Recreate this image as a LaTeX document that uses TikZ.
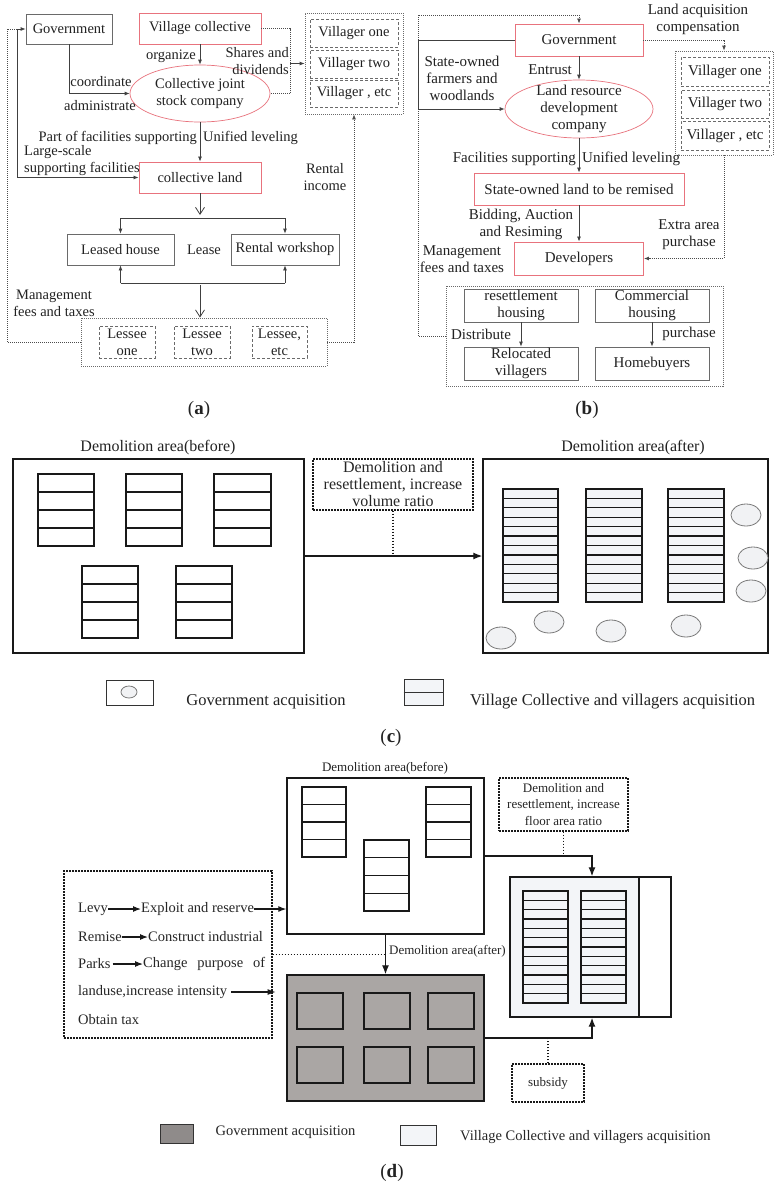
\documentclass[tikz,border=0pt]{standalone}
\usepackage{fontspec}
\setmainfont{Liberation Serif}
\usetikzlibrary{shapes.geometric,arrows.meta}
\definecolor{redb}{HTML}{E8737D}
\definecolor{grayb}{HTML}{6A6A6A}
\definecolor{txt}{HTML}{222222}
\definecolor{lightf}{HTML}{F3F5F8}
\definecolor{govf}{HTML}{AAA6A4}
\definecolor{govleg}{HTML}{8F8B8A}
\definecolor{ellc}{HTML}{7A7A7A}
\definecolor{ellf}{HTML}{F1F2F4}
\newcommand\fsA{\fontsize{14.5pt}{17pt}\selectfont}
\newcommand\fsB{\fontsize{15pt}{17pt}\selectfont}
\newcommand\fsC{\fontsize{16pt}{17pt}\selectfont}
\newcommand\fsCL{\fontsize{16.5pt}{18pt}\selectfont}
\newcommand\fsD{\fontsize{13pt}{16.5pt}\selectfont}
\newcommand\fsE{\fontsize{14.5pt}{17pt}\selectfont}
\newcommand\fsL{\fontsize{19pt}{22pt}\selectfont}
\newcommand\bldg[6]{%
  \draw[stk, fill=#6] (#1,#2) rectangle (#3,#4);
  \pgfmathtruncatemacro\bldgn{#5-1}%
  \foreach \k in {1,...,\bldgn}{\draw[stk] (#1,{#2+(#4-#2)*\k/#5}) -- (#3,{#2+(#4-#2)*\k/#5});}}
\tikzset{
  gbox/.style={draw=grayb, line width=0.8pt, inner sep=0pt, text=txt, align=center},
  rbox/.style={draw=redb, line width=0.9pt, inner sep=0pt, text=txt, align=center},
  rell/.style={ellipse, draw=redb, line width=0.7pt, inner sep=0pt},
  dotbox/.style={draw=grayb, line width=0.8pt, dash pattern=on 1pt off 1pt, inner sep=0pt},
  dashbox/.style={draw=grayb, line width=0.8pt, dash pattern=on 3pt off 2pt, inner sep=0pt, text=txt, align=center},
  lab/.style={inner sep=0pt, text=txt, align=center},
  ln/.style={draw=black!75, line width=0.8pt},
  arr/.style={ln, -{Latex[length=5pt,width=4pt]}},
  oarr/.style={ln, -{Straight Barb[length=7pt,width=9pt]}},
  dln/.style={draw=black!70, line width=0.8pt, dash pattern=on 1pt off 1pt},
  darr/.style={dln, -{Latex[length=5pt,width=4pt]}},
  bkbox/.style={draw=black!90, line width=1.4pt, inner sep=0pt, fill=white},
  stk/.style={draw=black!90, line width=1.2pt},
  bigarr/.style={draw=black!90, line width=1.3pt, -{Latex[length=9pt,width=7pt]}},
  midarr/.style={draw=black!90, line width=1.1pt, -{Latex[length=8pt,width=6pt]}},
  ddot/.style={draw=black!90, line width=1.3pt, dash pattern=on 1.6pt off 1.4pt},
  ddashbox/.style={draw=black!90, line width=1.3pt, dash pattern=on 1.6pt off 1.4pt, inner sep=0pt, text=black!85, align=center},
  ellst/.style={draw=ellc, fill=ellf, line width=0.8pt},
  legbox/.style={draw=black!80, line width=1pt, inner sep=0pt},
}
\begin{document}
\begin{tikzpicture}[x=1pt,y=-1pt]
\fill[white] (0,0) rectangle (774,1184);
\useasboundingbox (0,0) rectangle (774,1184);

% ================= (a) =================
\begin{scope}[font=\fsA]
\node[gbox, minimum width=86pt, minimum height=30pt] (govA) at (69,29) {Government};
\node[rbox, minimum width=122pt, minimum height=31pt] (vcA) at (200,28.5) {Village collective};
\node[rell, minimum width=140pt, minimum height=57pt] (cscA) at (200,93.5) {};
\node[lab] (cscT) at (cscA.center) {Collective joint\\stock company};
\node[dotbox, minimum width=98pt, minimum height=101pt] (vilA) at (354,63.5) {};
\node[dashbox, minimum width=88pt, minimum height=28pt] (v1A) at (354,33) {Villager one};
\node[dashbox, minimum width=88pt, minimum height=28pt] (v2A) at (354,64) {Villager two};
\node[dashbox, minimum width=88pt, minimum height=27pt] (v3A) at (354,93.5) {Villager , etc};

\draw[arr] (vcA) -- (cscA);
\node[lab, anchor=east] (orgA) at (196,56) {organize};
\draw[arr] (govA.south) |- (cscA.west);
\node[lab] (coordA) at (101,82) {coordinate};
\node[lab] (admA) at (100,106) {administrate};
\coordinate (dA1) at (290,28.5);
\coordinate (dA2) at (290,93.5);
\coordinate (dA3) at (290,63.5);
\draw[dln] (vcA.east) -- (dA1) -- (dA2) -- (cscA.east);
\draw[arr] (dA3) -- (vilA.west);
\node[lab, anchor=east, align=right] (shA) at (289,61.5) {Shares and\\dividends};

\node[rbox, minimum width=122pt, minimum height=31pt] (clA) at (200,177.5) {collective land};
\draw[arr] (cscA) -- (clA);
\node[lab, anchor=east] (pfA) at (197,138) {Part of facilities supporting};
\node[lab, anchor=west] (ulA) at (203,138) {Unified leveling};
\coordinate (lA0) at (7,29);
\coordinate (lA1) at (17,29);
\coordinate (lA2) at (17,177.5);
\draw[arr] (lA1) -- (lA2) -- (clA.west);
\draw[arr] (lA1) -- (govA.west);
\node[lab, anchor=west, align=left] (lsA) at (24,161) {Large-scale\\supporting facilities};

\node[gbox, minimum width=107pt, minimum height=31pt] (lhA) at (120.5,249.5) {Leased house};
\node[gbox, minimum width=108pt, minimum height=31pt] (rwA) at (285,249.5) {Rental workshop};
\node[lab] (leaseA) at (204,250) {Lease};
\coordinate (spA) at (200,215);
\draw[oarr] (clA.south) -- (spA);
\coordinate (hA1) at (120.5,218);
\coordinate (hA2) at (285,218);
\draw[ln] (hA1) -- (hA2);
\draw[arr] (hA1) -- (lhA.north);
\draw[arr] (hA2) -- (rwA.north);
\coordinate (hA3) at (120.5,283);
\coordinate (hA4) at (285,283);
\coordinate (hA5) at (200,285);
\draw[ln] (hA3) -- (hA4);
\draw[arr] (hA3) -- (lhA.south);
\draw[arr] (hA4) -- (rwA.south);

\node[dotbox, minimum width=246pt, minimum height=48pt] (lesA) at (204,342) {};
\node[dashbox, minimum width=56pt, minimum height=32pt] (l1A) at (127,342) {Lessee\\one};
\node[dashbox, minimum width=56pt, minimum height=32pt] (l2A) at (202,342) {Lessee\\two};
\node[dashbox, minimum width=55pt, minimum height=32pt] (l3A) at (279.5,342) {Lessee,\\etc};
\draw[oarr] (hA5) -- (hA5 |- lesA.north);
\node[lab] (mfA) at (54,303) {Management\\fees and taxes};
\draw[dln] (lesA.west) -| (lA0) -- (lA1);
\draw[darr] (lesA.east) -| (vilA.south);
\node[lab] (riA) at (325,177) {Rental\\income};
\end{scope}
\node[lab, font=\fsL] (capA) at (199,410) {(\textbf{a})};

% ================= (b) =================
\begin{scope}[font=\fsB]
\node[rbox, minimum width=128pt, minimum height=32pt] (govB) at (579,40) {Government};
\node[rell, minimum width=148pt, minimum height=58pt] (ldcB) at (579,109) {};
\node[lab] (ldcT) at (ldcB.center) {Land resource\\development\\company};
\node[dotbox, minimum width=98pt, minimum height=104pt] (vilB) at (724,103) {};
\node[dashbox, minimum width=88pt, minimum height=29pt] (v1B) at (725,71.5) {Villager one};
\node[dashbox, minimum width=88pt, minimum height=28pt] (v2B) at (725,104) {Villager two};
\node[dashbox, minimum width=88pt, minimum height=29pt] (v3B) at (725,135.5) {Villager , etc};
\node[dotbox, minimum width=277pt, minimum height=100pt] (boxB) at (584.5,336) {};

\coordinate (tB1) at (418,15);
\coordinate (tB2) at (418,336);
\draw[darr] (boxB.west) -- (tB2) -- (tB1) -| (govB.north);
\coordinate (sB1) at (418,40);
\draw[arr] (govB.west) -- (sB1) |- (ldcB.west);
\node[lab] (sofB) at (462,78) {State-owned\\farmers and\\woodlands};
\draw[arr] (govB) -- (ldcB);
\node[lab, anchor=east] (entB) at (572,70) {Entrust};
\draw[darr] (govB.east) -| (vilB.north);
\node[lab] (lacB) at (698,19.5) {Land acquisition\\compensation};

\node[rbox, minimum width=210pt, minimum height=32pt] (solB) at (579,189) {State-owned land to be remised};
\draw[arr] (ldcB) -- (solB);
\node[lab, anchor=east] (fsB) at (576,159) {Facilities supporting};
\node[lab, anchor=west] (ulB) at (582,159) {Unified leveling};
\node[rbox, minimum width=129pt, minimum height=33pt] (devB) at (579,258.5) {Developers};
\draw[arr] (solB) -- (devB);
\node[lab] (bidB) at (521,224.5) {Bidding, Auction\\and Resiming};
\draw[darr] (vilB.south) |- (devB.east);
\node[lab] (eapB) at (689,234.5) {Extra area\\purchase};
\node[lab] (mfB) at (462,259.5) {Management\\fees and taxes};

\node[gbox, minimum width=114pt, minimum height=33pt] (rhB) at (521,305.5) {resettlement\\housing};
\node[gbox, minimum width=114pt, minimum height=33pt] (chB) at (652,305.5) {Commercial\\housing};
\node[gbox, minimum width=114pt, minimum height=33pt] (rvB) at (521,363.5) {Relocated\\villagers};
\node[gbox, minimum width=114pt, minimum height=33pt] (hbB) at (652,363.5) {Homebuyers};
\draw[arr] (rhB) -- (rvB);
\draw[arr] (chB) -- (hbB);
\node[lab] (disB) at (481,334) {Distribute};
\node[lab] (purB) at (689,334) {purchase};
\end{scope}
\node[lab, font=\fsL] (capB) at (587,410) {(\textbf{b})};

% ================= (c) =================
\node[lab, font=\fsC] (cTb) at (158,448) {Demolition area(before)};
\node[lab, font=\fsC] (cTa) at (633,448) {Demolition area(after)};
\node[bkbox, minimum width=291pt, minimum height=194pt] (cB) at (158.5,556) {};
\node[bkbox, minimum width=285pt, minimum height=194pt] (cA) at (625.5,556) {};
\bldg{38}{474}{94}{546}{4}{white}
\bldg{126}{474}{182}{546}{4}{white}
\bldg{214}{474}{271}{546}{4}{white}
\bldg{82}{566}{138}{638}{4}{white}
\bldg{176}{566}{232}{638}{4}{white}
\draw[bigarr] (cB.east) -- (cA.west);
\node[ddashbox, minimum width=160pt, minimum height=51pt, font=\fsC] (cD) at (393,484.5) {Demolition and\\resettlement, increase\\volume ratio};
\coordinate (cJ) at (393,556);
\draw[ddot] (cD.south) -- (cJ);
\bldg{503}{489}{558}{602}{12}{lightf}
\bldg{586}{489}{642}{602}{12}{lightf}
\bldg{668}{489}{724}{602}{12}{lightf}
\foreach \px/\py in {746/515, 753/558, 751/591, 501/638, 549/622, 611/631, 686/626}
  \draw[ellst] (\px,\py) ellipse [x radius=15, y radius=11];
\node[legbox, minimum width=47pt, minimum height=25pt] (cL1) at (129.5,692.5) {};
\draw[ellst] (129,692) ellipse [x radius=8, y radius=6];
\node[lab, font=\fsCL] (cL1t) at (266,702) {Government acquisition};
\node[legbox, fill=lightf, minimum width=39pt, minimum height=26pt] (cL2) at (423.5,692) {};
\draw[legbox] (cL2.west) -- (cL2.east);
\node[lab, font=\fsCL, anchor=west] (cL2t) at (470,702) {Village Collective and villagers acquisition};
\node[lab, font=\fsL] (capC) at (391,738) {(\textbf{c})};

% ================= (d) =================
\node[lab, font=\fsD] (dTb) at (385,768) {Demolition area(before)};
\node[bkbox, minimum width=197pt, minimum height=156pt] (dB) at (385.5,856) {};
\bldg{302}{787}{346}{857}{4}{white}
\bldg{426}{787}{471}{857}{4}{white}
\bldg{364}{840}{409}{911}{4}{white}
\node[bkbox, fill=govf, minimum width=197pt, minimum height=126pt] (dG) at (385.5,1038) {};
\foreach \qx in {297,364,428}{
  \draw[stk, fill=govf] (\qx,993) rectangle ++(46,36);
  \draw[stk, fill=govf] (\qx,1047) rectangle ++(46,36);
}
\draw[bigarr] (dB.south) -- (dG.north);
\node[lab, font=\fsD, anchor=west, text=black!85] (dTa) at (389,951) {Demolition area(after)};

\node[bkbox, fill=lightf, minimum width=129pt, minimum height=140pt] (dR) at (574.5,947) {};
\node[bkbox, minimum width=32pt, minimum height=140pt] (dR2) at (655,947) {};
\bldg{523}{891}{568}{1003}{12}{lightf}
\bldg{581}{891}{626}{1003}{12}{lightf}
\coordinate (dK) at (592,856);
\draw[bigarr] (dB.east) -- (dK) -- (dK |- dR.north);
\node[ddashbox, minimum width=129pt, minimum height=53pt, font=\fsD] (dD) at (563.5,804.5) {Demolition and\\resettlement, increase\\floor area ratio};
\draw[ddot] (dD.south) -- (dD.south |- dK);
\coordinate (dK2) at (592,1038);
\draw[bigarr] (dG.east) -- (dK2) -- (dK2 |- dR.south);
\node[ddashbox, minimum width=72pt, minimum height=38pt, font=\fsD] (dS) at (548,1083) {subsidy};
\draw[ddot] (dS.north) -- (dS.north |- dK2);

\node[ddashbox, minimum width=208pt, minimum height=167pt] (dL) at (168,954.5) {};
\draw[ddot] (dL.east) -- (dL.east -| dB.south);
\begin{scope}[every node/.style={lab, anchor=west, font=\fsE, text=black!85}]
\node (levy) at (78,909) {Levy};
\node (expl) at (141,909) {Exploit and reserve};
\node (remi) at (78,937) {Remise};
\node (cons) at (148,937) {Construct industrial};
\node (park) at (78,964) {Parks};
\node (chg) at (143,964) {\makebox[122pt][s]{Change purpose of}};
\node (landu) at (78,992) {landuse,increase intensity};
\node (obt) at (78,1020) {Obtain tax};
\end{scope}
\draw[midarr] (levy.east) -- (expl.west);
\draw[midarr] (expl.east) -- (dB.west |- expl.east);
\draw[midarr] (remi.east) -- (cons.west);
\draw[midarr] ([xshift=2pt]park.east) -- (chg.west);
\draw[midarr] ([xshift=4pt]landu.east) -- ([xshift=3pt]dL.east |- landu.east);

\node[legbox, fill=govleg, minimum width=33pt, minimum height=19pt] (dL1) at (176.5,1133.5) {};
\node[lab, font=\fsE, text=black!85] (dL1t) at (285.5,1132) {Government acquisition};
\node[legbox, fill=lightf, minimum width=36pt, minimum height=20pt] (dL2) at (418,1135) {};
\node[lab, font=\fsE, anchor=west, text=black!85] (dL2t) at (460,1137) {Village Collective and villagers acquisition};
\node[lab, font=\fsL] (capD) at (392,1173) {(\textbf{d})};
\end{tikzpicture}
\end{document}
